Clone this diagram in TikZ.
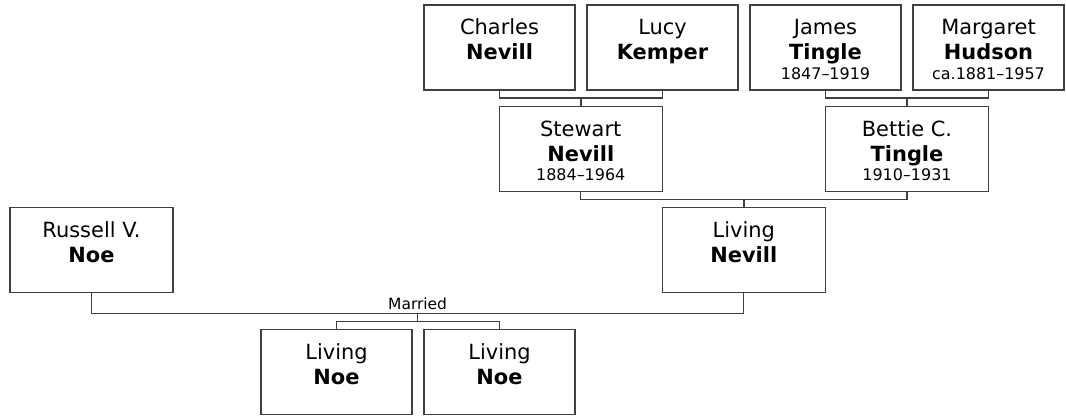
\documentclass[tikz,border=0pt]{standalone}
\usepackage{fontspec}
\setmainfont{DejaVu Sans}
\usetikzlibrary{positioning}

\setlength{\parskip}{0pt}
% name card text: width, first name, surname, dates
\newcommand\card[4]{%
  \parbox[c][85bp][t]{#1}{\centering\fontsize{21}{25.5}\selectfont
    \rule{0pt}{29.5bp}#2\par
    \textbf{#3}\par
    \fontsize{16}{19.5}\selectfont #4\par}}

\begin{document}
\begin{tikzpicture}[x=1bp, y=-1bp, line width=1.3bp,
    person/.style={draw=black!75, rectangle, inner sep=0pt, outer sep=0pt},
    link/.style={draw=black!75, line width=1.3bp}]
        \useasboundingbox (0,0) rectangle (1066,418);

        % Grandparents
        \node[person] (charles) at (499.5,47.5) {\card{151bp}{Charles}{Nevill}{}};
        \node[person, right=12bp of charles] (lucy) {\card{151bp}{Lucy}{Kemper}{}};
        \node[person] (james) at (825.5,47.5) {\card{151bp}{James}{Tingle}{1847–1919}};
        \node[person, right=12bp of james] (margaret) {\card{151bp}{Margaret}{Hudson}{ca.1881–1957}};

        % Parents
        \node[person] (stewart) at (580.75,149) {\card{163bp}{Stewart}{Nevill}{1884–1964}};
        \node[person] (bettie) at (907,149) {\card{163bp}{Bettie C.}{Tingle}{1910–1931}};

        % Couple
        \node[person] (russell) at (91.5,250) {\card{163bp}{Russell V.}{Noe}{}};
        \node[person] (nevill) at (743.75,250) {\card{163bp}{Living}{Nevill}{}};

        % Children
        \node[person] (noeA) at (336.5,372) {\card{151bp}{Living}{Noe}{}};
        \node[person, right=12bp of noeA] (noeB) {\card{151bp}{Living}{Noe}{}};

        % Relationships
        \draw[link] (charles.south) -- ++(0,8) -| coordinate[pos=0.25] (cl) (lucy.south);
        \draw[link] (cl) -- (cl |- stewart.north);
        \draw[link] (james.south) -- ++(0,8) -| coordinate[pos=0.25] (jm) (margaret.south);
        \draw[link] (jm) -- (jm |- bettie.north);
        \draw[link] (stewart.south) -- ++(0,8) -| coordinate[pos=0.25] (sb) (bettie.south);
        \draw[link] (sb) -- (sb |- nevill.north);
        \draw[link] (russell.south) -- ++(0,21) -| node[pos=0.25, above, inner sep=3.5bp,
            font=\fontsize{15.5}{18}\selectfont] (married) {Married} coordinate[pos=0.25] (rn) (nevill.south);
        \draw[link] (rn) -- ++(0,8) coordinate (kids);
        \draw[link] (noeA.north) -- (noeA.north |- kids) -- (noeB.north |- kids) -- (noeB.north);
    \end{tikzpicture}
\end{document}
